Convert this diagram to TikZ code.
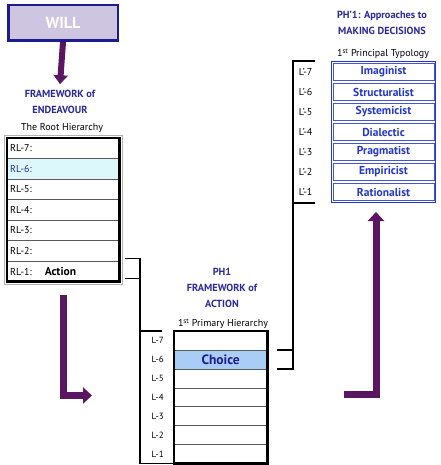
\documentclass[tikz,border=0pt]{standalone}
\usepackage{fontspec}
\setmainfont{PT Sans}
\usetikzlibrary{arrows.meta,positioning,fit,calc}

\definecolor{willfill}{HTML}{CEC6E0}
\definecolor{willdraw}{HTML}{1C1C8E}
\definecolor{titleblue}{HTML}{2A2A9E}
\definecolor{typoblue}{HTML}{2236D0}
\definecolor{purplearrow}{HTML}{5A1660}
\definecolor{rowcyan}{HTML}{DDF8FA}
\definecolor{choiceblue}{HTML}{A9CDF4}

\tikzset{
  willbox/.style={draw=willdraw, line width=2.5pt, fill=willfill, text=white,
    minimum width=109.5pt, minimum height=35.5pt, font=\fontsize{16}{18}\selectfont\bfseries},
  title/.style={text=titleblue, align=center, inner sep=0pt,
    font=\fontsize{10.3}{15.7}\selectfont\bfseries},
  sub/.style={inner sep=0pt, font=\fontsize{10}{12}\selectfont},
  rlrow/.style={draw=gray!70!black, minimum width=112pt, minimum height=20.43pt,
    text width=106pt, align=left, inner xsep=3pt, inner ysep=0pt,
    font=\fontsize{10}{12}\selectfont},
  lrow/.style={draw=gray!70!black, minimum width=93pt, minimum height=18.86pt, inner sep=0pt},
  typo/.style={draw=typoblue!85, line width=0.8pt, fill=white, text=typoblue,
    minimum width=101pt, minimum height=17pt, inner sep=0pt,
    font=\fontsize{11.5}{13}\selectfont\bfseries},
  lvl/.style={inner sep=0pt, font=\fontsize{9}{11}\selectfont},
  bracket/.style={line width=1.4pt},
  bigarrow/.style={purplearrow, line width=7pt, -{Triangle[width=16pt,length=9pt]}}
}

\begin{document}
\begin{tikzpicture}[x=1pt,y=-1pt]
    \useasboundingbox (0,0) rectangle (440,465);

    % Will and its arrow
    \node[willbox] (will) at (63,23) {WILL};
    \node[title] (fwe) at (60,102) {FRAMEWORK of\\ENDEAVOUR};
    \node[sub] (roothead) at (62,128) {The Root Hierarchy};
    \draw[bigarrow, line width=6pt, -{Triangle[width=14pt,length=9pt]}] (will.south) -- ([yshift=6pt]fwe.north);

    % The root hierarchy
    \foreach \n/\f/\c/\txt [count=\k from 0] in {7/white/black/{},
        6/rowcyan/titleblue/{}, 5/white/black/{}, 4/white/black/{},
        3/white/black/{}, 2/white/black/{},
        1/white/black/{\hspace{13pt}{\fontsize{11.5}{12}\selectfont\bfseries Action}}}
      \node[rlrow, fill=\f, text=\c, anchor=north west] (rl\n) at (7,{138+20.43*\k}) {RL-\n:\txt};
    \draw[line width=2.5pt] (rl7.north west) rectangle (rl1.south east);
    \node[fit=(rl7)(rl1), draw=gray!60, line width=0.8pt, inner sep=3pt] (rootframe) {};

    % PH1 framework of action
    \node[title] (ph1) at (222,288) {PH1\\FRAMEWORK of\\ACTION};
    \node[sub] (primhead) at (223,324) {1\textsuperscript{st} Primary Hierarchy};
    \foreach \n/\f/\txt [count=\k from 0] in {7/white/{}, 6/choiceblue/{Choice},
        5/white/{}, 4/white/{}, 3/white/{}, 2/white/{}, 1/white/{}}
    {
      \node[lrow, fill=\f, anchor=north west, text=willdraw,
        font=\fontsize{13.5}{15}\selectfont\bfseries] (l\n) at (174,{331+18.86*\k}) {\txt};
      \node[lvl, left=10pt of l\n] (ll\n) {L-\n};
    }
    \draw[line width=2.5pt] (l7.north west) rectangle (l1.south east);

    % PH'1 approaches to making decisions
    \node[title] (ph1p) at (382,23) {PH'1: Approaches to\\MAKING DECISIONS};
    \node[sub] (typohead) at (383,54) {1\textsuperscript{st} Principal Typology};
    \foreach \n/\txt [count=\k from 0] in {7/Imaginist, 6/Structuralist, 5/Systemicist,
        4/Dialectic, 3/Pragmatist, 2/Empiricist, 1/Rationalist}
    {
      \node[typo] (t\n) at (383.5,{72+20*\k}) {\txt};
      \node[lvl, left=20pt of t\n, font=\fontsize{10}{12}\selectfont] (tl\n) {L'-\n};
    }
    \node[fit=(t7)(t1), draw=typoblue, line width=1pt, inner xsep=1.5pt, inner ysep=1.5pt] (typoframe) {};

    % Brackets
    \coordinate (sp1) at (140,0);
    \draw[bracket] ([shift={(6pt,2pt)}]rl1.north east) -- ([yshift=2pt]rl1.north east -| sp1)
        -- (l1.south west -| sp1) -- (l1.south west);
    \draw[bracket] ([shift={(6pt,3pt)}]rl1.south east) -- ([yshift=3pt]rl1.south east -| sp1);
    \draw[bracket] (l7.north west -| sp1) -- ([xshift=-12pt]l7.north west);

    \coordinate (sp2) at (293,0);
    \draw[bracket] ([xshift=10pt]l6.north east) -- (l6.north east -| sp2);
    \draw[bracket] ([xshift=10pt]l6.south east) -- (l6.south east -| sp2)
        -- (typoframe.north west -| sp2) -- ([xshift=-18pt]t7.west |- typoframe.north);
    \draw[bracket] (typoframe.south west -| sp2) -- ([xshift=-18pt]t1.west |- typoframe.south);

    % Purple arrows
    \coordinate (a2s) at (63,295);
    \coordinate (a2e) at (92,395.5);
    \draw[bigarrow] (a2s) |- (a2e);
    \coordinate (a3s) at (344,394);
    \coordinate (a3e) at (376,212);
    \draw[bigarrow] (a3s) -| (a3e);

\end{tikzpicture}
\end{document}
